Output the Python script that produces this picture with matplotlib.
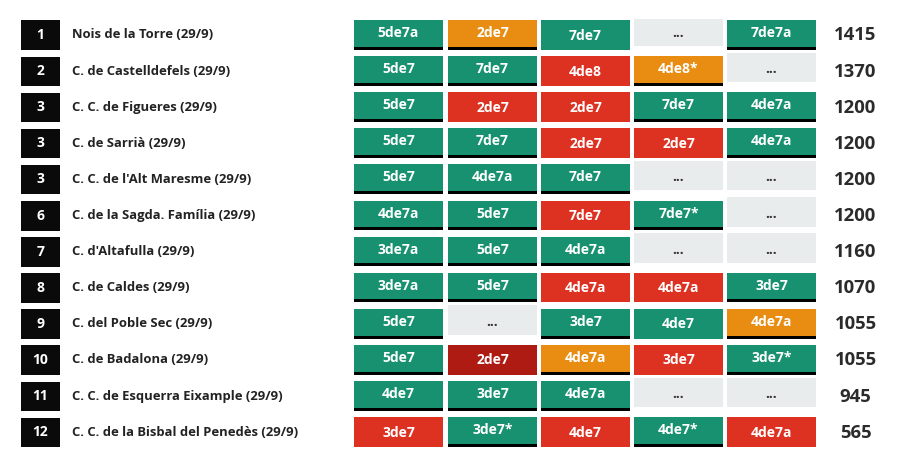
import matplotlib
matplotlib.use("Agg")
import matplotlib.pyplot as plt
from matplotlib.patches import Rectangle

plt.rcParams['font.family'] = ['Open Sans', 'DejaVu Sans']

ranks = ["1", "2", "3", "3", "3", "6", "7", "8", "9", "10", "11", "12"]
teams = ["Nois de la Torre (29/9)", "C. de Castelldefels (29/9)", "C. C. de Figueres (29/9)",
         "C. de Sarrià (29/9)", "C. C. de l'Alt Maresme (29/9)", "C. de la Sagda. Família (29/9)",
         "C. d'Altafulla (29/9)", "C. de Caldes (29/9)", "C. del Poble Sec (29/9)",
         "C. de Badalona (29/9)", "C. C. de Esquerra Eixample (29/9)", "C. C. de la Bisbal del Penedès (29/9)"]
scores = [1415, 1370, 1200, 1200, 1200, 1200, 1160, 1070, 1055, 1055, 945, 565]

rounds = [
    ["5de7a", "2de7", "7de7", "...", "7de7a"],
    ["5de7", "7de7", "4de8", "4de8*", "..."],
    ["5de7", "2de7", "2de7", "7de7", "4de7a"],
    ["5de7", "7de7", "2de7", "2de7", "4de7a"],
    ["5de7", "4de7a", "7de7", "...", "..."],
    ["4de7a", "5de7", "7de7", "7de7*", "..."],
    ["3de7a", "5de7", "4de7a", "...", "..."],
    ["3de7a", "5de7", "4de7a", "4de7a", "3de7"],
    ["5de7", "...", "3de7", "4de7", "4de7a"],
    ["5de7", "2de7", "4de7a", "3de7", "3de7*"],
    ["4de7", "3de7", "4de7a", "...", "..."],
    ["3de7", "3de7*", "4de7", "4de7*", "4de7a"],
]
# g green, o orange, r red, d dark red, n green without the black bar, x empty
results = [
    "gonxg",
    "ggrox",
    "grrgg",
    "ggrrg",
    "gggxx",
    "ggrgx",
    "gggxx",
    "ggrrg",
    "gxgno",
    "gdorg",
    "gggxx",
    "rgrgr",
]

colors = {"g": "#17916f", "n": "#17916f", "o": "#e88d12", "r": "#dd3222", "d": "#ad1b12", "x": "#e8eced"}
col_x = [354, 448, 541, 634, 727]
col_w = 89
row_top = 20
row_step = 36.1

fig = plt.figure(figsize=(9, 4.61), dpi=100)
ax = fig.add_axes([0, 0, 1, 1])
ax.set_xlim(0, 900)
ax.set_ylim(461, 0)
ax.axis("off")

for i in range(len(teams)):
    top = row_top + i * row_step
    ax.add_patch(Rectangle((21, top + 0.5), 39, 29.5, color="#0a0a0a", lw=0))
    ax.text(40.5, top + 15, ranks[i], color="white", fontsize=10, fontweight="bold", ha="center", va="center")
    ax.text(72.5, top + 15, teams[i], color="#222222", fontsize=9.4, fontweight="bold", ha="left", va="center")
    ax.text(855.5, top + 15.5, str(scores[i]), color="#2b2b2b", fontsize=13.3, fontweight="bold", ha="center", va="center")
    for j in range(5):
        kind = results[i][j]
        if kind in "go":
            ax.add_patch(Rectangle((col_x[j], top), col_w, 26.7, color=colors[kind], lw=0))
            ax.add_patch(Rectangle((col_x[j], top + 26.7), col_w, 3, color="black", lw=0))
            ty = top + 13
        elif kind == "x":
            # the first row's empty cell is cut shorter at the top
            y0 = top - 1 if i == 0 else top - 3.5
            ax.add_patch(Rectangle((col_x[j], y0), col_w, top + 26 - y0, color=colors[kind], lw=0))
            ty = top + 13
        else:
            ax.add_patch(Rectangle((col_x[j], top), col_w, 29.7, color=colors[kind], lw=0))
            ty = top + 15.5
        tcol = "#333333" if kind == "x" else "white"
        ax.text(col_x[j] + col_w / 2, ty, rounds[i][j], color=tcol, fontsize=10, fontweight="bold", ha="center", va="center")

fig.savefig("out.png", dpi=100)
